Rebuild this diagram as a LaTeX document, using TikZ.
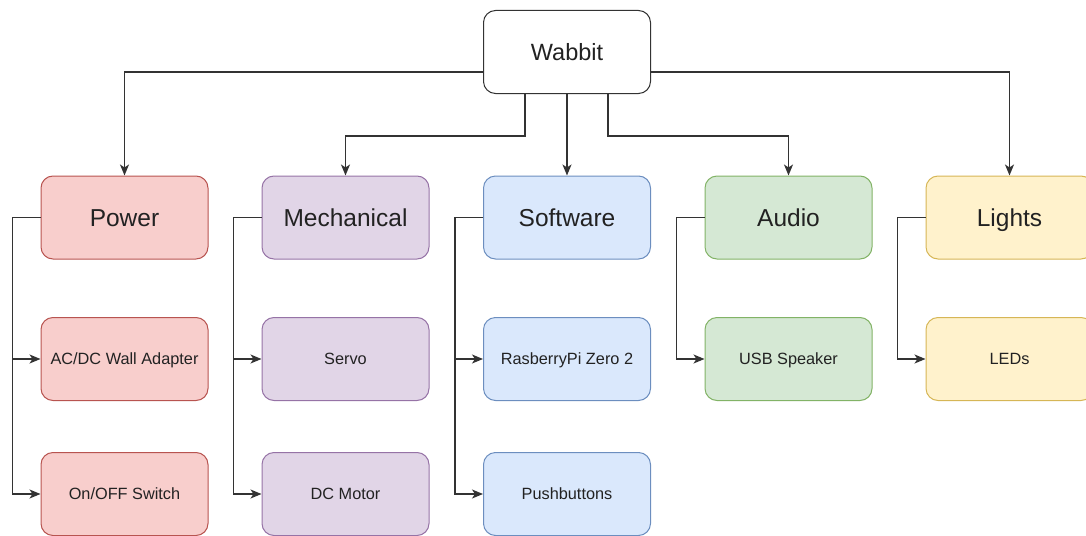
\documentclass[tikz,border=0pt]{standalone}
\usepackage{fontspec}
\setmainfont{Liberation Sans}
\usetikzlibrary{arrows.meta,positioning,calc}
\definecolor{redfill}{HTML}{F8CECC}\definecolor{redline}{HTML}{B85450}
\definecolor{purfill}{HTML}{E1D5E7}\definecolor{purline}{HTML}{9673A6}
\definecolor{blufill}{HTML}{DAE8FC}\definecolor{bluline}{HTML}{6C8EBF}
\definecolor{grnfill}{HTML}{D5E8D4}\definecolor{grnline}{HTML}{82B366}
\definecolor{yelfill}{HTML}{FFF2CC}\definecolor{yelline}{HTML}{D6B656}
\definecolor{txt}{HTML}{222222}
\definecolor{wire}{HTML}{333333}
\tikzset{
  box/.style={rectangle, rounded corners=12pt, minimum width=167pt, minimum height=83pt, inner sep=0pt, text=txt, line width=1pt, text depth=0pt},
  topbox/.style={box, draw=wire, fill=white, font=\fontsize{23.5}{27}\selectfont, text height=16.9pt},
  catbox/.style={box, font=\fontsize{24.5}{28}\selectfont, text height=17.6pt},
  subbox/.style={box, font=\fontsize{16.3}{19}\selectfont, text height=11.7pt},
  redb/.style={draw=redline, fill=redfill},
  purb/.style={draw=purline, fill=purfill},
  blub/.style={draw=bluline, fill=blufill},
  grnb/.style={draw=grnline, fill=grnfill},
  yelb/.style={draw=yelline, fill=yelfill},
  wirel/.style={draw=wire, line width=1.4pt},
  arr/.style={wirel, -{Stealth[length=11pt,width=9pt,inset=3pt]}},
}
\begin{document}
\begin{tikzpicture}[x=1pt,y=-1pt]
\useasboundingbox (0,0) rectangle (1086,535);
\clip (0,0) rectangle (1086,535);
% top
\node[topbox] (w) at (567,52) {Wabbit};
% categories
\node[catbox,redb] (power) at (124.5,217.5) {Power};
\node[catbox,purb] (mech) at (345.5,217.5) {Mechanical};
\node[catbox,blub] (soft) at (567,217.5) {Software};
\node[catbox,grnb] (audio) at (788.5,217.5) {Audio};
\node[catbox,yelb] (lights) at (1009.5,217.5) {Lights};
% sub items
\node[subbox,redb] (adapter) at (124.5,359) {AC/DC Wall Adapter};
\node[subbox,redb] (switch) at (124.5,494) {On/OFF Switch};
\node[subbox,purb] (servo) at (345.5,359) {Servo};
\node[subbox,purb] (motor) at (345.5,494) {DC Motor};
\node[subbox,blub] (pi) at (567,359) {RasberryPi Zero 2};
\node[subbox,blub] (push) at (567,494) {Pushbuttons};
\node[subbox,grnb] (speaker) at (788.5,359) {USB Speaker};
\node[subbox,yelb] (leds) at (1009.5,359) {LEDs};
% top connectors
\draw[arr] ([yshift=-20pt]w.west) -| (power.north);
\draw[arr] ([yshift=-20pt]w.east) -| (lights.north);
\draw[arr] ([xshift=-42pt]w.south) -- ++(0,42) -| (mech.north);
\draw[arr] (w.south) -- (soft.north);
\draw[arr] ([xshift=41pt]w.south) -- ++(0,42) -| (audio.north);
% child connectors
\draw[arr] (power.west) -- ++(-28,0) |- (adapter.west);
\draw[arr] (power.west) -- ++(-28,0) |- (switch.west);
\draw[arr] (mech.west) -- ++(-28,0) |- (servo.west);
\draw[arr] (mech.west) -- ++(-28,0) |- (motor.west);
\draw[arr] (soft.west) -- ++(-28,0) |- (pi.west);
\draw[arr] (soft.west) -- ++(-28,0) |- (push.west);
\draw[arr] (audio.west) -- ++(-28,0) |- (speaker.west);
\draw[arr] (lights.west) -- ++(-28,0) |- (leds.west);
\end{tikzpicture}
\end{document}
